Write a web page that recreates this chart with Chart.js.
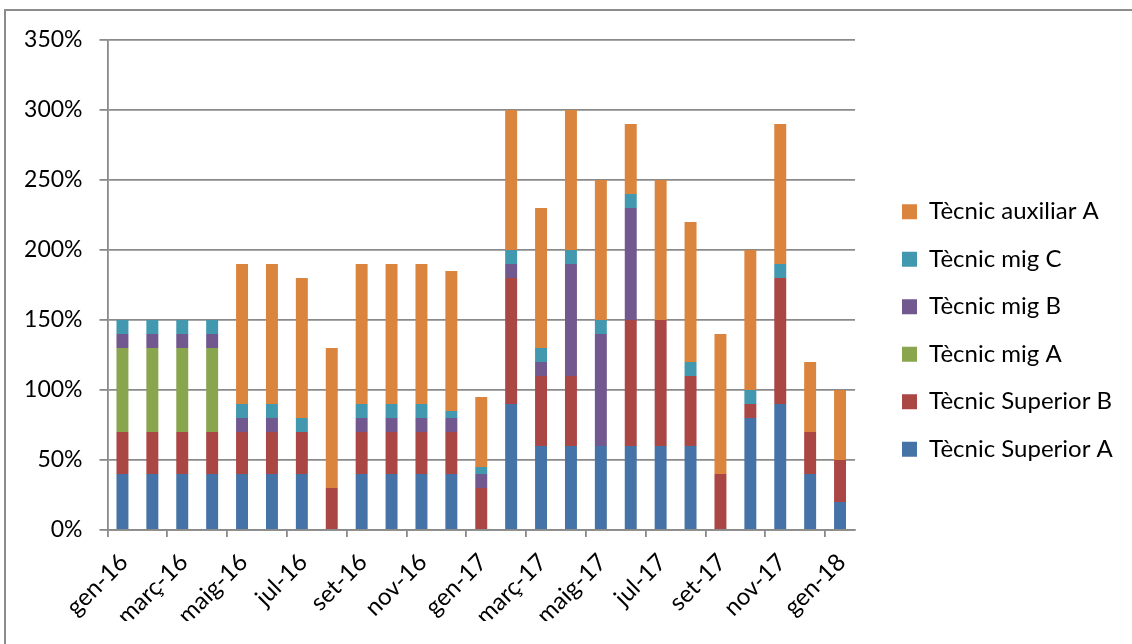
<!DOCTYPE html>
<html>
<head>
<meta charset="utf-8">
<script src="https://cdn.jsdelivr.net/npm/chart.js@4/dist/chart.umd.min.js"></script>
<style>
  html, body { margin: 0; padding: 0; background: #fff; overflow: hidden; }
  #wrap { position: relative; width: 1132px; height: 644px; }
  #frame { position: absolute; left: 4px; top: 9px; width: 2000px; height: 2000px;
           border-left: 2px solid #8c8c8c; border-top: 2px solid #8c8c8c; pointer-events: none; }
</style>
</head>
<body>
<div id="wrap">
  <canvas id="c" width="1132" height="644"></canvas>
  <div id="frame"></div>
</div>
<script>
const months = ['gen-16','febr-16','març-16','abr-16','maig-16','juny-16','jul-16','ag-16','set-16','oct-16','nov-16','des-16',
                'gen-17','febr-17','març-17','abr-17','maig-17','juny-17','jul-17','ag-17','set-17','oct-17','nov-17','des-17','gen-18'];
const tecnicSuperiorA = [40,40,40,40,40,40,40,0,40,40,40,40,0,90,60,60,60,60,60,60,0,80,90,40,20];
const tecnicSuperiorB = [30,30,30,30,30,30,30,30,30,30,30,30,30,90,50,50,0,90,90,50,40,10,90,30,30];
const tecnicMigA      = [60,60,60,60,0,0,0,0,0,0,0,0,0,0,0,0,0,0,0,0,0,0,0,0,0];
const tecnicMigB      = [10,10,10,10,10,10,0,0,10,10,10,10,10,10,10,80,80,80,0,0,0,0,0,0,0];
const tecnicMigC      = [10,10,10,10,10,10,10,0,10,10,10,5,5,10,10,10,10,10,0,10,0,10,10,0,0];
const tecnicAuxiliarA = [0,0,0,0,100,100,100,100,100,100,100,100,50,100,100,100,100,50,100,100,100,100,100,50,50];
const yTicks = [0,50,100,150,200,250,300,350];

const FONT = 'Lato';
const GRID = '#8a8a8a';

const series = [
  ['Tècnic Superior A', tecnicSuperiorA, '#4572A7'],
  ['Tècnic Superior B', tecnicSuperiorB, '#AA4643'],
  ['Tècnic mig A', tecnicMigA, '#89A54E'],
  ['Tècnic mig B', tecnicMigB, '#71588F'],
  ['Tècnic mig C', tecnicMigC, '#4198AF'],
  ['Tècnic auxiliar A', tecnicAuxiliarA, '#DB843D']
];

const legendWidthPlugin = {
  id: 'legendWidth',
  beforeLayout(chart) {
    const lg = chart.legend;
    if (lg && !lg._wrapped) {
      const orig = lg.fit;
      lg.fit = function() { orig.call(this); this.width = 253.5; };
      lg._wrapped = true;
    }
  }
};

new Chart(document.getElementById('c'), {
  type: 'bar',
  data: {
    labels: months,
    datasets: series.map(([label, data, color]) => ({
      label, data, backgroundColor: color, borderWidth: 0,
      barPercentage: 0.4, categoryPercentage: 1.0
    }))
  },
  plugins: [legendWidthPlugin],
  options: {
    responsive: false,
    animation: false,
    layout: { padding: { left: 0, top: 40, bottom: 23, right: 0 } },
    plugins: {
      tooltip: { enabled: false },
      legend: {
        position: 'right',
        reverse: true,
        labels: {
          font: { family: FONT, size: 24 },
          color: '#000',
          boxWidth: 15,
          boxHeight: 15,
          padding: 23.5
        }
      }
    },
    scales: {
      x: {
        stacked: true,
        offset: true,
        grid: {
          display: true, offset: true, drawOnChartArea: false, drawTicks: true,
          tickLength: 7, lineWidth: 1.8,
          tickColor: (ctx) => (ctx.index !== undefined && ctx.index % 2 === 0) ? GRID : 'rgba(0,0,0,0)'
        },
        border: { display: true, color: GRID, width: 1.8 },
        ticks: {
          autoSkip: false, maxRotation: 45, minRotation: 45,
          font: { family: FONT, size: 24 }, color: '#000', padding: 11,
          labelOffset: 1.5,
          callback: function(v, i) { return i % 2 === 0 ? months[i] : ''; }
        },
        afterFit: (s) => { s.height = 91; }
      },
      y: {
        stacked: true,
        min: 0, max: 350,
        afterBuildTicks: (s) => { s.ticks = yTicks.map(v => ({ value: v })); },
        grid: { color: GRID, lineWidth: 1.8, tickLength: 8, drawTicks: true, tickColor: GRID },
        border: { display: true, color: GRID, width: 1.8 },
        ticks: {
          font: { family: FONT, size: 23 }, color: '#000', padding: 17,
          callback: (v) => v + '%'
        },
        afterFit: (s) => { s.width = 107.5; }
      },
      gap: {
        type: 'linear', position: 'right', display: true,
        grid: { display: false }, border: { display: false }, ticks: { display: false },
        afterFit: (s) => { s.width = 23.5; }
      }
    }
  }
});
</script>
</body>
</html>
